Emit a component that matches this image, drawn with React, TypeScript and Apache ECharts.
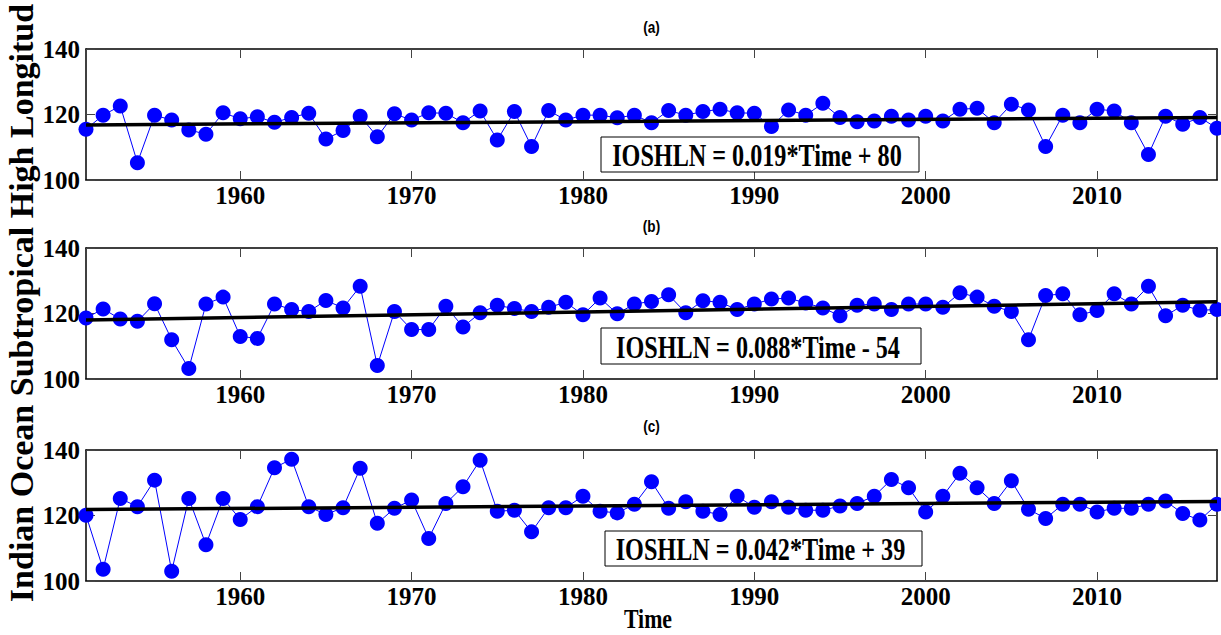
import { useEffect, useRef } from "react";
import * as echarts from "echarts";

const years = [
  1951, 1952, 1953, 1954, 1955, 1956, 1957, 1958, 1959, 1960,
  1961, 1962, 1963, 1964, 1965, 1966, 1967, 1968, 1969, 1970,
  1971, 1972, 1973, 1974, 1975, 1976, 1977, 1978, 1979, 1980,
  1981, 1982, 1983, 1984, 1985, 1986, 1987, 1988, 1989, 1990,
  1991, 1992, 1993, 1994, 1995, 1996, 1997, 1998, 1999, 2000,
  2001, 2002, 2003, 2004, 2005, 2006, 2007, 2008, 2009, 2010,
  2011, 2012, 2013, 2014, 2015, 2016, 2017,
];

const seriesA = [
  115.5, 119.8, 122.6, 105.3, 119.8, 118.3, 115.3, 114.0, 120.5, 118.7,
  119.3, 117.6, 119.1, 120.4, 112.5, 115.1, 119.5, 113.2, 120.2, 118.3,
  120.5, 120.4, 117.5, 121.1, 112.2, 120.9, 110.2, 121.2, 118.3, 119.8,
  119.8, 119.0, 119.8, 117.5, 121.2, 119.8, 120.9, 121.6, 120.5, 120.4,
  116.3, 121.4, 119.8, 123.4, 119.1, 117.8, 118.0, 119.5, 118.3, 119.5,
  118.0, 121.6, 121.9, 117.5, 123.1, 121.4, 110.2, 119.8, 117.5, 121.6,
  121.1, 117.5, 107.8, 119.5, 117.0, 119.1, 115.8,
];

const seriesB = [
  118.6, 121.4, 118.3, 117.6, 123.0, 112.0, 103.2, 122.9, 125.0, 113.0,
  112.4, 122.9, 121.2, 120.6, 124.0, 121.7, 128.3, 104.1, 120.6, 115.1,
  115.1, 122.2, 115.9, 120.2, 122.5, 121.5, 120.6, 121.9, 123.4, 119.6,
  124.7, 119.9, 122.9, 123.7, 125.7, 120.2, 123.9, 123.4, 121.2, 122.9,
  124.4, 124.7, 123.2, 121.7, 119.3, 122.5, 122.9, 121.2, 122.9, 122.9,
  121.9, 126.3, 125.0, 122.2, 120.6, 112.0, 125.5, 126.0, 119.6, 120.9,
  126.0, 122.9, 128.3, 119.3, 122.5, 121.0, 121.2,
];

const seriesC = [
  120.1, 103.6, 125.2, 122.7, 130.8, 103.0, 125.2, 111.1, 125.2, 118.8,
  122.7, 134.6, 137.2, 122.7, 120.3, 122.4, 134.4, 117.6, 122.2, 124.7,
  113.0, 123.7, 128.8, 136.9, 121.3, 121.6, 115.0, 122.4, 122.4, 125.9,
  121.3, 120.8, 123.4, 130.3, 122.2, 124.2, 121.3, 120.3, 125.9, 122.5,
  124.2, 122.5, 121.6, 121.6, 122.9, 123.7, 125.9, 131.0, 128.5, 121.1,
  125.9, 132.9, 128.5, 123.7, 130.6, 121.9, 119.1, 123.4, 123.4, 121.1,
  122.2, 122.2, 123.4, 124.4, 120.6, 118.6, 123.4,
];

// Trend line end points (values at first and last year)
const trendYears = [1951, 2017];
const trendA = [116.8, 119.1];
const trendB = [118.0, 123.6];
const trendC = [121.8, 124.3];

const panelTitles = ["(a)", "(b)", "(c)"];
const equations = [
  "IOSHLN = 0.019*Time + 80",
  "IOSHLN = 0.088*Time - 54",
  "IOSHLN = 0.042*Time + 39",
];
const xTickValues = [1960, 1970, 1980, 1990, 2000, 2010];
const yMin = 100;
const yMax = 140;
const yInterval = 20;
const xMin = 1951;
const xMax = 2017;
const yAxisTitle = "Indian Ocean Subtropical High Longitud";
const xAxisTitle = "Time";

const SERIF = "'Liberation Serif', 'Times New Roman', serif";
const SANS = "'Liberation Sans', Arial, sans-serif";

export default function App() {
  const ref = useRef<HTMLDivElement>(null);

  useEffect(() => {
    if (!ref.current) return;
    const chart = echarts.init(ref.current, undefined, { renderer: "svg" });

    const panelValues = [seriesA, seriesB, seriesC];
    const panelTrends = [trendA, trendB, trendC];
    const gridTops = [49, 248, 450];
    const gridLeft = 86;
    const gridWidth = 1131;
    const gridHeight = 131;
    const titleYs = [28, 227, 427];
    const boxes = [
      { x: 601, y: 137, w: 318, h: 35 },
      { x: 601, y: 328, w: 320, h: 36 },
      { x: 605, y: 531, w: 317, h: 35 },
    ];

    const grid: any[] = [];
    const xAxis: any[] = [];
    const yAxis: any[] = [];
    const series: any[] = [];
    const graphic: any[] = [];

    const axisLine = { show: true, lineStyle: { color: "#000", width: 1.5 } };

    panelValues.forEach((vals, i) => {
      grid.push({ left: gridLeft, top: gridTops[i], width: gridWidth, height: gridHeight });
      xAxis.push({
        type: "value",
        gridIndex: i,
        position: "bottom",
        min: xMin,
        max: xMax,
        axisLine,
        axisTick: {
          show: true,
          inside: true,
          length: 9,
          customValues: xTickValues,
          lineStyle: { color: "#444", width: 1 },
        },
        axisLabel: {
          show: true,
          customValues: xTickValues,
          formatter: (v: number) => String(v),
          fontFamily: SERIF,
          fontWeight: "bold",
          fontSize: 25,
          color: "#000",
          margin: 3,
        },
        splitLine: { show: false },
      });
      xAxis.push({
        type: "value",
        gridIndex: i,
        position: "top",
        min: xMin,
        max: xMax,
        axisLine,
        axisTick: {
          show: true,
          inside: true,
          length: 9,
          customValues: xTickValues,
          lineStyle: { color: "#444", width: 1 },
        },
        axisLabel: { show: false },
        splitLine: { show: false },
      });
      yAxis.push({
        type: "value",
        gridIndex: i,
        position: "left",
        min: yMin,
        max: yMax,
        interval: yInterval,
        axisLine,
        axisTick: { show: true, inside: true, length: 9, lineStyle: { color: "#444", width: 1 } },
        axisLabel: {
          fontFamily: SERIF,
          fontWeight: "bold",
          fontSize: 25,
          color: "#000",
          margin: 6,
        },
        splitLine: { show: false },
      });
      yAxis.push({
        type: "value",
        gridIndex: i,
        position: "right",
        min: yMin,
        max: yMax,
        interval: yInterval,
        axisLine,
        axisTick: { show: true, inside: true, length: 9, lineStyle: { color: "#444", width: 1 } },
        axisLabel: { show: false },
        splitLine: { show: false },
      });
      series.push({
        type: "line",
        xAxisIndex: 2 * i,
        yAxisIndex: 2 * i,
        data: years.map((y, k) => [y, vals[k]]),
        symbol: "circle",
        symbolSize: 15,
        showAllSymbol: true,
        clip: false,
        lineStyle: { color: "#0000ff", width: 1 },
        itemStyle: { color: "#0000ff" },
        z: 2,
      });
      series.push({
        type: "line",
        xAxisIndex: 2 * i,
        yAxisIndex: 2 * i,
        data: trendYears.map((y, k) => [y, panelTrends[i][k]]),
        symbol: "none",
        clip: false,
        lineStyle: { color: "#000", width: 3.5 },
        z: 3,
      });

      graphic.push({
        type: "text",
        x: gridLeft + gridWidth / 2,
        y: titleYs[i],
        scaleX: 0.85,
        style: {
          text: panelTitles[i],
          fontFamily: SANS,
          fontWeight: "bold",
          fontSize: 16,
          fill: "#000",
          textAlign: "center",
          textVerticalAlign: "middle",
        },
      });
      const b = boxes[i];
      graphic.push({
        type: "rect",
        shape: { x: b.x, y: b.y, width: b.w, height: b.h },
        style: { fill: "#fff", stroke: "#000", lineWidth: 1 },
        z: 10,
      });
      graphic.push({
        type: "text",
        x: b.x + b.w / 2 - 3,
        y: b.y + b.h / 2 + 1,
        scaleX: 0.78,
        style: {
          text: equations[i],
          fontFamily: SERIF,
          fontWeight: "bold",
          fontSize: 31,
          fill: "#000",
          textAlign: "center",
          textVerticalAlign: "middle",
        },
        z: 11,
      });
    });

    graphic.push({
      type: "text",
      x: 21,
      y: 303,
      rotation: Math.PI / 2,
      style: {
        text: yAxisTitle,
        fontFamily: SERIF,
        fontWeight: "bold",
        fontSize: 34,
        fill: "#000",
        textAlign: "center",
        textVerticalAlign: "middle",
      },
    });
    graphic.push({
      type: "text",
      x: 648,
      y: 619,
      scaleX: 0.78,
      style: {
        text: xAxisTitle,
        fontFamily: SERIF,
        fontWeight: "bold",
        fontSize: 28,
        fill: "#000",
        textAlign: "center",
        textVerticalAlign: "middle",
      },
    });

    chart.setOption({
      animation: false,
      backgroundColor: "#fff",
      grid,
      xAxis,
      yAxis,
      series,
      graphic,
    });

    return () => chart.dispose();
  }, []);

  return (
    <div
      ref={ref}
      style={{ position: "fixed", left: 0, top: 0, width: 1221, height: 635 }}
    />
  );
}
